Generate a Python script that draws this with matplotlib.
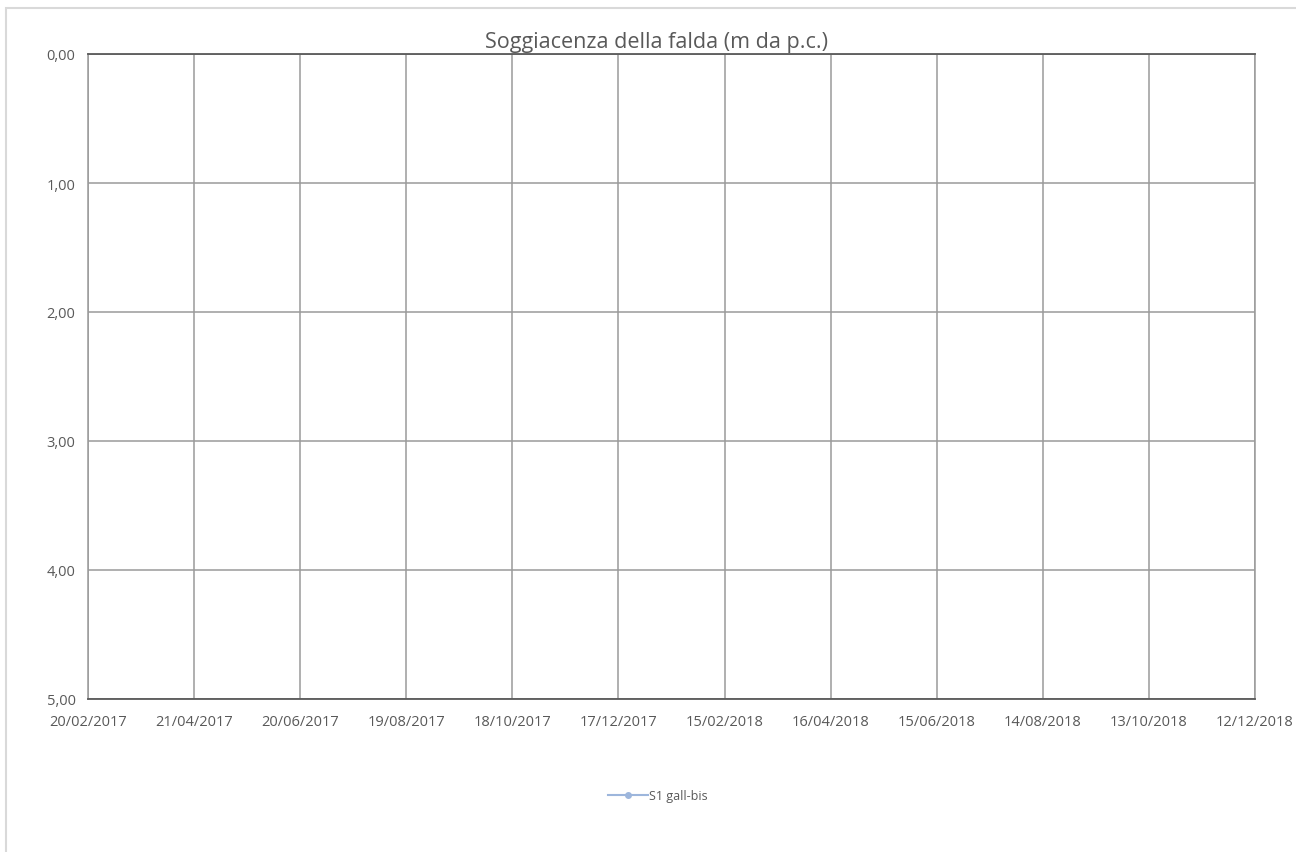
import datetime as dt
import matplotlib
matplotlib.use('Agg')
import matplotlib.pyplot as plt
import matplotlib.dates as mdates
from matplotlib.ticker import FixedLocator, FuncFormatter
from matplotlib.patches import Rectangle

# data: the series has no readings in the shown period
series_name = 'S1 gall-bis'
dates = []
depth_m = []

x_start = dt.date(2017, 2, 20)
x_end = dt.date(2018, 12, 12)
tick_step_days = 60
y_ticks = [0, 1, 2, 3, 4, 5]

plt.rcParams['font.family'] = ['Open Sans', 'DejaVu Sans']
text_col = '#595959'
grid_col = '#9a9a9a'

fig = plt.figure(figsize=(12.96, 8.53), dpi=100)
# chart area border
fig.patches.append(Rectangle((6 / 1296, -0.1), 1.2, 1 - 9 / 853 + 0.1, transform=fig.transFigure,
                             fill=False, edgecolor='#d9d9d9', linewidth=1.5))

ax = fig.add_axes([88 / 1296, 1 - 700 / 853, (1255 - 88) / 1296, (700 - 55) / 853])
ax.plot(dates, depth_m, color='#9db6dc', marker='o', markersize=4, linewidth=1.5, label=series_name)

ax.set_xlim(mdates.date2num(x_start), mdates.date2num(x_end))
xt = [mdates.date2num(x_start) + i * tick_step_days for i in range(12)]
ax.xaxis.set_major_locator(FixedLocator(xt))
ax.xaxis.set_major_formatter(mdates.DateFormatter('%d/%m/%Y'))
ax.set_ylim(5, 0)
ax.yaxis.set_major_locator(FixedLocator(y_ticks))
ax.yaxis.set_major_formatter(FuncFormatter(lambda v, p: f'{v:.2f}'.replace('.', ',')))

ax.grid(True, color=grid_col, linewidth=1.1)
ax.set_axisbelow(True)
for s in ['left', 'right']:
    ax.spines[s].set_color(grid_col)
    ax.spines[s].set_linewidth(1.1)
for s in ['top', 'bottom']:
    ax.spines[s].set_color('#595959')
    ax.spines[s].set_linewidth(1.3)
ax.tick_params(length=0, colors=text_col, labelsize=10.5)
ax.tick_params(axis='y', pad=9)
ax.tick_params(axis='x', pad=11)

ax.set_title('Soggiacenza della falda (m da p.c.)', color=text_col, fontsize=15.5, pad=5, x=0.487)

leg = fig.legend(loc='center', bbox_to_anchor=(658 / 1296, 1 - 797 / 853), frameon=False,
                 fontsize=9, handlelength=3.2, handletextpad=0.1, labelcolor=text_col)

fig.savefig('out.png', dpi=100)
